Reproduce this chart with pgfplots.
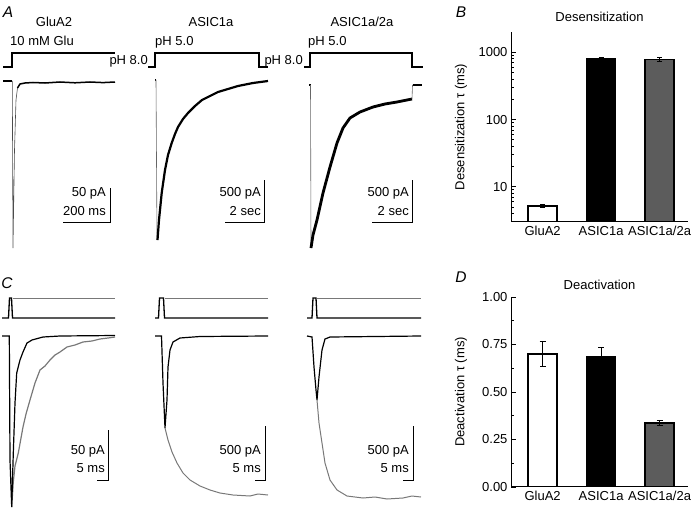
\documentclass[border=0pt]{standalone}
\usepackage{pgfplots}
\pgfplotsset{compat=1.18}
\usepackage{fontspec}
\setmainfont{Liberation Sans}
\newcommand\fs{\fontsize{13}{15}\selectfont}
\newcommand\fl{\fontsize{15.5}{17}\selectfont\itshape}
\definecolor{barg}{RGB}{92,92,92}
\definecolor{trg}{RGB}{120,120,120}
\begin{document}
\begin{tikzpicture}[x=1pt,y=1pt]
\path[use as bounding box] (0,0) rectangle (695,508);
% ---------------- traces (pixel coordinates) ----------------
\begin{axis}[at={(0pt,0pt)}, anchor=south west, scale only axis, width=695pt, height=508pt,
  xmin=0, xmax=695, ymin=0, ymax=508, y dir=reverse, hide axis, clip=false]
% panel letters
\node[font=\fl] at (axis cs:8,12) {A};
\node[font=\fl] at (axis cs:461,12) {B};
\node[font=\fl] at (axis cs:7,283) {C};
\node[font=\fl] at (axis cs:461,277) {D};
% headings
\node[font=\fs, anchor=mid] at (axis cs:54,24) {GluA2};
\node[font=\fs, anchor=mid] at (axis cs:211,24) {ASIC1a};
\node[font=\fs, anchor=mid] at (axis cs:362,24) {ASIC1a/2a};
\node[font=\fs, anchor=mid west, inner sep=0] at (axis cs:10,43) {10 mM Glu};
\node[font=\fs, anchor=mid west, inner sep=0] at (axis cs:155,43) {pH 5.0};
\node[font=\fs, anchor=mid east, inner sep=0] at (axis cs:148,62) {pH 8.0};
\node[font=\fs, anchor=mid west, inner sep=0] at (axis cs:308,43) {pH 5.0};
\node[font=\fs, anchor=mid east, inner sep=0] at (axis cs:303,62) {pH 8.0};
% solution steps A
\addplot[black, line width=1.3pt] coordinates {(3,67) (12,67) (12,53) (115,53)};
\addplot[black, line width=1.3pt] coordinates {(148,67) (155,67) (155,53) (259,53) (259,67) (268,67)};
\addplot[black, line width=1.3pt] coordinates {(304,67) (310,67) (310,53) (412,53) (412,67) (423,67)};
% A GluA2 trace
\addplot[black, line width=1.4pt] coordinates {(3,81) (12,81)};
\addplot[black!70, line width=0.6pt] coordinates {(12.3,81) (13,248) (14.5,150) (16,100) (17.5,88)};
\addplot[black, line width=1.5pt] coordinates {(17.5,88) (20,84) (25,83) (33,82.5) (45,83) (60,82) (75,82.8) (90,82) (103,82.6) (115,82)};
% A ASIC1a trace
\addplot[black, line width=1.4pt] coordinates {(155,80) (156,80)};
\addplot[black!60, line width=0.6pt] coordinates {(156,80) (157,240)};
\addplot[black, line width=2.2pt] coordinates {(157.5,240) (159,220) (161.7,193) (165,170) (168,155) (171.7,143) (175,134) (178,127) (183,119) (188,113) (195,106) (202,100) (210,96) (218,92) (228,89) (238,86) (253,83) (268,81)};
% A ASIC1a/2a trace
\addplot[black, line width=1.4pt] coordinates {(309,85) (310.5,85)};
\addplot[black!60, line width=0.6pt] coordinates {(310.5,85) (311,248)};
\addplot[black, line width=2.8pt] coordinates {(311,248) (313,235) (317,220) (323,193) (330,167) (337,143) (343,128) (350,118) (360,112) (373,107) (385,104) (397,102) (412,99)};
\addplot[black!60, line width=0.6pt] coordinates {(412,99) (412.5,85)};
\addplot[black, line width=1.6pt] coordinates {(412.5,85) (422,85)};
% scale bars A
\addplot[black, line width=1pt] coordinates {(110,188) (110,222) (63,222)};
\addplot[black, line width=1pt] coordinates {(264,180) (264,222) (225,222)};
\addplot[black, line width=1pt] coordinates {(412,180) (412,222) (372,222)};
\node[font=\fs, anchor=mid east, inner sep=0] at (axis cs:106,194) {50 pA};
\node[font=\fs, anchor=mid east, inner sep=0] at (axis cs:106,213) {200 ms};
\node[font=\fs, anchor=mid east, inner sep=0] at (axis cs:261,194) {500 pA};
\node[font=\fs, anchor=mid east, inner sep=0] at (axis cs:261,213) {2 sec};
\node[font=\fs, anchor=mid east, inner sep=0] at (axis cs:409,194) {500 pA};
\node[font=\fs, anchor=mid east, inner sep=0] at (axis cs:409,213) {2 sec};
% ---------------- C ----------------
% pulses
\addplot[trg, line width=1pt] coordinates {(12.5,298) (115,298)};
\addplot[black, line width=1.3pt] coordinates {(2,318) (8.5,318) (9.5,298) (11.5,298) (12.5,318) (115,318)};
\addplot[trg, line width=1pt] coordinates {(165,298) (268,298)};
\addplot[black, line width=1.3pt] coordinates {(155,318) (158.5,318) (159.5,298) (163.5,298) (164.5,318) (268,318)};
\addplot[trg, line width=1pt] coordinates {(317,298) (421,298)};
\addplot[black, line width=1.3pt] coordinates {(307,318) (312,318) (313,298) (316,298) (317,318) (421,318)};
% C GluA2 traces
\addplot[trg, line width=1.2pt] coordinates {(11.7,507) (13.3,482) (15,466) (18.3,453) (23,427) (26,414) (30,400) (35,383) (40,370) (45,366) (50,360) (55,355) (60,352) (67,347) (75,345) (83,342) (92,341) (100,339) (108,338) (115,337)};
\addplot[black, line width=1.2pt] coordinates {(2,336) (9.3,336) (10,460) (11.7,507) (13.3,453) (15,403) (16.7,373) (20,360) (23,352) (27,343) (32,340) (43,337) (60,336) (115,335.5)};
% C ASIC1a traces
\addplot[trg, line width=1pt] coordinates {(165,428) (168,440) (172,452) (177,463) (183,473) (190,480) (200,486) (210,490) (220,493) (233,495) (250,496) (258,494) (268,495)};
\addplot[black, line width=1.2pt] coordinates {(155,336) (161.5,336) (163,383) (165,428) (167,400) (168,367) (170,350) (173,342) (180,338) (200,336.5) (268,336)};
% C ASIC1a/2a traces
\addplot[trg, line width=1pt] coordinates {(317,400) (319,423) (322,443) (325,463) (330,480) (337,490) (347,496) (363,498) (375,497) (387,499) (403,498) (412,496) (421,497)};
\addplot[black, line width=1.2pt] coordinates {(307,336) (312,337) (314,367) (316,390) (317,400) (319,377) (322,350) (325,339) (330,337) (421,336)};
% scale bars C
\addplot[black, line width=1pt] coordinates {(108,430) (108,480) (97,480)};
\addplot[black, line width=1pt] coordinates {(265,426) (265,480) (255,480)};
\addplot[black, line width=1pt] coordinates {(413,426) (413,480) (403,480)};
\node[font=\fs, anchor=mid east, inner sep=0] at (axis cs:105,452) {50 pA};
\node[font=\fs, anchor=mid east, inner sep=0] at (axis cs:105,470) {5 ms};
\node[font=\fs, anchor=mid east, inner sep=0] at (axis cs:261,452) {500 pA};
\node[font=\fs, anchor=mid east, inner sep=0] at (axis cs:261,470) {5 ms};
\node[font=\fs, anchor=mid east, inner sep=0] at (axis cs:409,452) {500 pA};
\node[font=\fs, anchor=mid east, inner sep=0] at (axis cs:409,470) {5 ms};
\end{axis}
% ---------------- B ----------------
\begin{axis}[at={(511pt,286pt)}, anchor=south west, scale only axis, width=177pt, height=190pt,
  ymode=log, log origin=infty, ymin=3, ymax=2000, xmin=-0.54, xmax=2.486,
  axis lines=left, axis line style={-, line width=1pt},
  ytick={10,100,1000}, yticklabels={10,100,1000},
  minor ytick={4,5,6,7,8,9,20,30,40,50,60,70,80,90,200,300,400,500,600,700,800,900},
  tick align=inside, ytick pos=left, major tick length=5pt, minor tick length=3pt,
  tick style={black, line width=0.8pt},
  xtick={0,1,2}, xticklabels={GluA2,ASIC1a,ASIC1a/2a}, xtick style={draw=none},
  ticklabel style={font=\fs}, /pgf/number format/assume math mode=true,
  title={Desensitization}, title style={font=\fs, at={(axis description cs:0.5,1)}, anchor=base, yshift=4.5pt},
  ylabel={Desensitization τ (ms)}, ylabel style={font=\fs, at={(axis description cs:-0.282,0.5)}, anchor=center},
  xticklabel style={yshift=-1pt}]
\addplot[ybar, bar shift=0pt, bar width=29pt, fill=white, draw=black, line width=1.3pt,
  error bars/.cd, y dir=both, y explicit, error bar style={line width=1pt}, error mark options={rotate=90, mark size=2.5pt, line width=1pt}]
  coordinates {(0,5.2) +- (0,0.25)};
\addplot[ybar, bar shift=0pt, bar width=29pt, fill=black, draw=black, line width=1.3pt,
  error bars/.cd, y dir=both, y explicit, error bar style={line width=1pt}, error mark options={rotate=90, mark size=2.5pt, line width=1pt}]
  coordinates {(1,800) +- (0,35)};
\addplot[ybar, bar shift=0pt, bar width=29pt, fill=barg, draw=black, line width=1.3pt,
  error bars/.cd, y dir=both, y explicit, error bar style={line width=1pt}, error mark options={rotate=90, mark size=2.5pt, line width=1pt}]
  coordinates {(2,775) +- (0,55)};
\end{axis}
% ---------------- D ----------------
\begin{axis}[at={(511pt,21pt)}, anchor=south west, scale only axis, width=177pt, height=190pt,
  ymin=0, ymax=1, xmin=-0.54, xmax=2.486,
  axis lines=left, axis line style={-, line width=1pt},
  ytick={0,0.25,0.5,0.75,1}, yticklabels={0.00,0.25,0.50,0.75,1.00},
  minor ytick={0.125,0.375,0.625,0.875},
  tick align=inside, ytick pos=left, major tick length=5pt, minor tick length=3pt,
  tick style={black, line width=0.8pt},
  xtick={0,1,2}, xticklabels={GluA2,ASIC1a,ASIC1a/2a}, xtick style={draw=none},
  ticklabel style={font=\fs}, /pgf/number format/assume math mode=true,
  title={Deactivation}, title style={font=\fs, at={(axis description cs:0.5,1)}, anchor=base, yshift=1.5pt},
  ylabel={Deactivation τ (ms)}, ylabel style={font=\fs, at={(axis description cs:-0.282,0.5)}, anchor=center},
  xticklabel style={yshift=-1pt}]
\addplot[ybar, bar shift=0pt, bar width=29pt, fill=white, draw=black, line width=1.3pt,
  error bars/.cd, y dir=both, y explicit, error bar style={line width=1pt}, error mark options={rotate=90, mark size=3pt, line width=1pt}]
  coordinates {(0,0.70) +- (0,0.067)};
\addplot[ybar, bar shift=0pt, bar width=29pt, fill=black, draw=black, line width=1.3pt,
  error bars/.cd, y dir=both, y explicit, error bar style={line width=1pt}, error mark options={rotate=90, mark size=3pt, line width=1pt}]
  coordinates {(1,0.688) +- (0,0.045)};
\addplot[ybar, bar shift=0pt, bar width=29pt, fill=barg, draw=black, line width=1.3pt,
  error bars/.cd, y dir=both, y explicit, error bar style={line width=1pt}, error mark options={rotate=90, mark size=3pt, line width=1pt}]
  coordinates {(2,0.337) +- (0,0.015)};
\end{axis}
\end{tikzpicture}
\end{document}
